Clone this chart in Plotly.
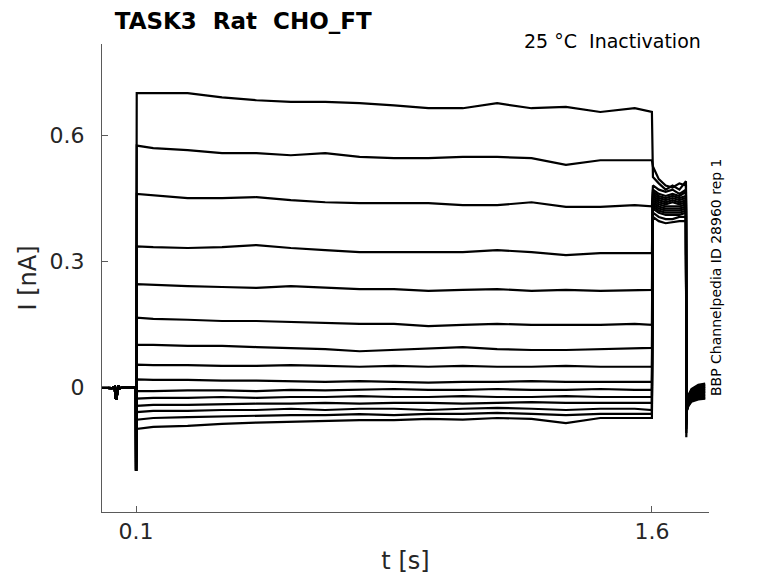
import plotly.graph_objects as go

# ---- data ----
# holding period before the prepulse (shared by all sweeps)
PRE_T = [0.0, 0.03, 0.038, 0.040, 0.043, 0.045, 0.048, 0.052, 0.06, 0.0995]
PRE_I = [-0.002, -0.003, 0.0, -0.025, -0.03, -0.01, 0.003, -0.003, -0.002, -0.002]

# capacitive transient at the start of the prepulse
CAP_T = [0.1]
CAP_I = [-0.2]

# prepulse sample times
STEP_T = [0.102, 0.15, 0.25, 0.35, 0.45, 0.55, 0.65, 0.75, 0.85, 0.95,
          1.05, 1.15, 1.25, 1.35, 1.45, 1.55, 1.6]

SWEEP_01 = [0.700, 0.700, 0.700, 0.690, 0.683, 0.679, 0.679, 0.676, 0.671, 0.664, 0.664, 0.676, 0.664, 0.667, 0.655, 0.664, 0.655]
SWEEP_02 = [0.575, 0.569, 0.564, 0.557, 0.557, 0.552, 0.557, 0.548, 0.545, 0.545, 0.548, 0.548, 0.545, 0.529, 0.540, 0.540, 0.540]
SWEEP_03 = [0.460, 0.457, 0.450, 0.450, 0.452, 0.445, 0.440, 0.438, 0.438, 0.438, 0.433, 0.433, 0.440, 0.429, 0.429, 0.433, 0.430]
SWEEP_04 = [0.335, 0.333, 0.331, 0.333, 0.338, 0.331, 0.326, 0.321, 0.321, 0.321, 0.321, 0.326, 0.321, 0.314, 0.319, 0.319, 0.319]
SWEEP_05 = [0.245, 0.243, 0.240, 0.238, 0.236, 0.240, 0.236, 0.233, 0.233, 0.229, 0.231, 0.233, 0.229, 0.231, 0.229, 0.231, 0.231]
SWEEP_06 = [0.165, 0.162, 0.160, 0.157, 0.157, 0.155, 0.152, 0.150, 0.150, 0.145, 0.148, 0.150, 0.148, 0.148, 0.148, 0.150, 0.148]
SWEEP_07 = [0.100, 0.100, 0.098, 0.098, 0.095, 0.093, 0.090, 0.085, 0.088, 0.092, 0.095, 0.090, 0.088, 0.088, 0.090, 0.093, 0.093]
SWEEP_08 = [0.053, 0.052, 0.052, 0.050, 0.050, 0.052, 0.050, 0.048, 0.050, 0.048, 0.050, 0.048, 0.048, 0.050, 0.048, 0.048, 0.048]
SWEEP_09 = [0.018, 0.017, 0.017, 0.015, 0.015, 0.014, 0.012, 0.014, 0.012, 0.010, 0.012, 0.012, 0.014, 0.012, 0.012, 0.012, 0.012]
SWEEP_10 = [-0.010, -0.010, -0.008, -0.008, -0.010, -0.007, -0.008, -0.007, -0.005, -0.007, -0.007, -0.005, -0.007, -0.007, -0.005, -0.007, -0.007]
SWEEP_11 = [-0.028, -0.026, -0.026, -0.024, -0.026, -0.024, -0.024, -0.022, -0.024, -0.024, -0.022, -0.024, -0.024, -0.022, -0.024, -0.024, -0.024]
SWEEP_12 = [-0.045, -0.043, -0.043, -0.041, -0.040, -0.040, -0.038, -0.040, -0.038, -0.038, -0.040, -0.038, -0.036, -0.038, -0.038, -0.038, -0.038]
SWEEP_13 = [-0.060, -0.057, -0.057, -0.055, -0.055, -0.052, -0.055, -0.052, -0.052, -0.055, -0.052, -0.050, -0.052, -0.055, -0.052, -0.052, -0.055]
SWEEP_14 = [-0.078, -0.074, -0.072, -0.070, -0.069, -0.067, -0.067, -0.065, -0.067, -0.064, -0.064, -0.062, -0.064, -0.067, -0.064, -0.064, -0.064]
SWEEP_15 = [-0.100, -0.095, -0.093, -0.088, -0.085, -0.083, -0.081, -0.079, -0.079, -0.076, -0.078, -0.074, -0.076, -0.086, -0.074, -0.074, -0.074]

SWEEPS = [SWEEP_01, SWEEP_02, SWEEP_03, SWEEP_04, SWEEP_05, SWEEP_06, SWEEP_07, SWEEP_08,
          SWEEP_09, SWEEP_10, SWEEP_11, SWEEP_12, SWEEP_13, SWEEP_14, SWEEP_15]

# test pulse (tail) sample times and values per sweep
TAIL_T = [1.603, 1.62, 1.64, 1.66, 1.68, 1.699]
TAIL_I = [
    [0.500, 0.485, 0.470, 0.480, 0.470, 0.490],
    [0.525, 0.495, 0.480, 0.475, 0.485, 0.480],
    [0.480, 0.470, 0.465, 0.470, 0.460, 0.470],
    [0.470, 0.460, 0.455, 0.460, 0.455, 0.465],
    [0.465, 0.455, 0.450, 0.455, 0.450, 0.455],
    [0.460, 0.450, 0.445, 0.450, 0.445, 0.450],
    [0.455, 0.445, 0.440, 0.445, 0.440, 0.445],
    [0.450, 0.440, 0.435, 0.440, 0.435, 0.440],
    [0.445, 0.435, 0.430, 0.430, 0.430, 0.435],
    [0.440, 0.430, 0.425, 0.425, 0.425, 0.430],
    [0.435, 0.425, 0.420, 0.420, 0.420, 0.425],
    [0.430, 0.420, 0.415, 0.415, 0.415, 0.420],
    [0.425, 0.415, 0.410, 0.410, 0.410, 0.415],
    [0.415, 0.405, 0.400, 0.400, 0.405, 0.405],
    [0.405, 0.395, 0.390, 0.392, 0.395, 0.395],
]

# return to holding after the test pulse
POST_T = [1.7, 1.702, 1.706, 1.715, 1.735, 1.755]
POST_I = [
    [-0.120, -0.045, -0.020, -0.005, 0.005, 0.008],
    [-0.110, -0.045, -0.020, -0.008, 0.002, 0.005],
    [-0.100, -0.045, -0.022, -0.010, 0.000, 0.002],
    [-0.090, -0.045, -0.024, -0.012, -0.003, 0.000],
    [-0.080, -0.046, -0.026, -0.014, -0.005, -0.003],
    [-0.075, -0.047, -0.028, -0.016, -0.008, -0.005],
    [-0.070, -0.048, -0.030, -0.018, -0.010, -0.008],
    [-0.065, -0.049, -0.032, -0.020, -0.012, -0.010],
    [-0.060, -0.050, -0.034, -0.022, -0.015, -0.012],
    [-0.060, -0.051, -0.036, -0.024, -0.017, -0.015],
    [-0.060, -0.052, -0.038, -0.026, -0.020, -0.018],
    [-0.060, -0.053, -0.040, -0.028, -0.022, -0.020],
    [-0.060, -0.054, -0.042, -0.030, -0.025, -0.023],
    [-0.060, -0.055, -0.044, -0.033, -0.028, -0.026],
    [-0.060, -0.056, -0.046, -0.035, -0.030, -0.028],
]

X_TICKS = [0.1, 1.6]
X_TICK_TEXT = ["0.1", "1.6"]
Y_TICKS = [0, 0.3, 0.6]
Y_TICK_TEXT = ["0", "0.3", "0.6"]

TITLE = "TASK3\u00a0\u00a0Rat\u00a0\u00a0CHO_FT"
SUBTITLE = "25 °C\u00a0\u00a0Inactivation"
SIDE_TEXT = "BBP Channelpedia ID 28960 rep 1"

# ---- figure ----
FONT = "DejaVu Sans"
AXIS_GREY = "#5a5a5a"
TEXT_GREY = "#262626"

fig = go.Figure()
for step, tail, post in zip(SWEEPS, TAIL_I, POST_I):
    x = PRE_T + CAP_T + STEP_T + TAIL_T + POST_T
    y = PRE_I + CAP_I + step + tail + post
    fig.add_trace(go.Scatter(x=x, y=y, mode="lines",
                             line=dict(color="black", width=2.2),
                             showlegend=False, hoverinfo="skip"))

fig.update_layout(
    width=778, height=583,
    margin=dict(l=94, r=77, t=36, b=79, autoexpand=False),
    paper_bgcolor="white", plot_bgcolor="white",
    font=dict(family=FONT, color=TEXT_GREY),
    title=dict(text="<b>" + TITLE + "</b>", xref="paper", x=0.021, xanchor="left",
               yref="container", y=0.977, yanchor="middle",
               font=dict(family=FONT, size=23, color="black")),
    xaxis=dict(range=[0.001, 1.766], showline=True, linecolor=AXIS_GREY, linewidth=1,
               ticks="inside", ticklen=6, tickcolor=AXIS_GREY,
               tickvals=X_TICKS, ticktext=X_TICK_TEXT,
               tickfont=dict(size=22, color=TEXT_GREY),
               showgrid=False, zeroline=False, mirror=False, automargin=False,
               title=dict(text="t [s]", font=dict(size=24, color=TEXT_GREY), standoff=8)),
    yaxis=dict(range=[-0.298, 0.817], showline=True, linecolor=AXIS_GREY, linewidth=1,
               ticks="inside", ticklen=6, tickcolor=AXIS_GREY,
               tickvals=Y_TICKS, ticktext=Y_TICK_TEXT,
               tickfont=dict(size=22, color=TEXT_GREY), ticklabelstandoff=12,
               showgrid=False, zeroline=False, mirror=False, automargin=False,
               title=dict(text="I [nA]", font=dict(size=24, color=TEXT_GREY), standoff=6)),
    annotations=[
        dict(text=SUBTITLE, xref="paper", yref="paper", x=0.990, y=1.006,
             xanchor="right", yanchor="middle", showarrow=False,
             font=dict(family=FONT, size=19, color="black")),
        dict(text=SIDE_TEXT, xref="paper", yref="paper", x=1.0115, y=0.502,
             xanchor="center", yanchor="middle", textangle=-90, showarrow=False,
             font=dict(family=FONT, size=14, color="black")),
    ],
)

fig.write_html("out.html")
